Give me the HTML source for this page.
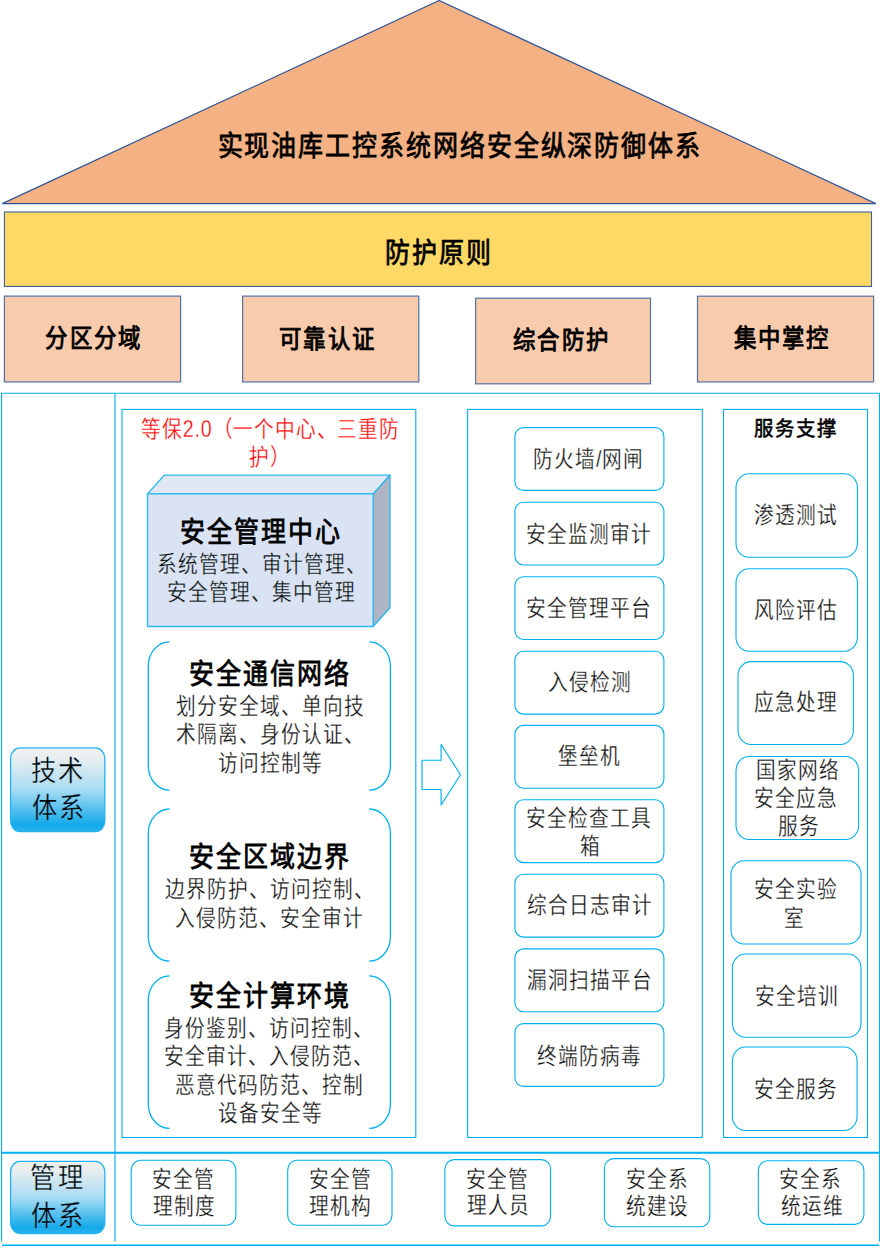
<!DOCTYPE html>
<html lang="zh-CN">
<head>
<meta charset="utf-8">
<title>油库工控系统网络安全纵深防御体系</title>
<style>
html,body{margin:0;padding:0;background:#fff;}
body{width:880px;height:1255px;position:relative;overflow:hidden;font-family:"Liberation Sans",sans-serif;color:#000;}
#bg{position:absolute;left:0;top:0;width:880px;height:1255px;}
.t{position:absolute;white-space:nowrap;line-height:1;margin:0;padding:0;transform-origin:0 0;}
.b{font-weight:normal;-webkit-text-stroke:0.7px #000;}
.b24{-webkit-text-stroke-width:0.85px;}
.bsh{-webkit-text-stroke-width:0.55px;}
.n{font-weight:400;color:#0a0a0a;-webkit-text-stroke:0.25px #fff;}
.c{-webkit-text-stroke-color:#dae3f3;}
.g{color:#000;-webkit-text-stroke:0.3px #c4e4f2;}
.g2{-webkit-text-stroke-color:#5cc1f0;}
.r{color:#ff0000;}
</style>
</head>
<body>
<svg id="bg" width="880" height="1255" viewBox="0 0 880 1255">
<defs>
<linearGradient id="gbtn" x1="0" y1="0" x2="0" y2="1">
<stop offset="0" stop-color="#f0f0f0"/>
<stop offset="0.12" stop-color="#e9eef0"/>
<stop offset="0.5" stop-color="#a8dcf3"/>
<stop offset="0.92" stop-color="#13a9ea"/>
<stop offset="1" stop-color="#2fb4ee"/>
</linearGradient>
</defs>
<polygon points="2.3,203.6 439.1,0.5 875.9,203.6" fill="#f4b183" stroke="#2f5597" stroke-width="1.2"/>
<rect x="4.4" y="212" width="867.1" height="74.4" fill="#ffd966" stroke="#3f5f97" stroke-width="1.1"/>
<g fill="#f8cbad" stroke="#5572a6" stroke-width="1.2">
<rect x="4.4" y="296.1" width="176.2" height="85.8"/>
<rect x="242.6" y="296.1" width="176.2" height="85.8"/>
<rect x="475.6" y="298.2" width="174.9" height="85.6"/>
<rect x="697.5" y="296.2" width="176.1" height="85.7"/>
</g>
<g fill="none" stroke="#00b0f0" stroke-width="1.1">
<path d="M1.6,1241.6 L1.6,393.3 L879.5,393.3 L879.5,1241.6"/>
<path d="M115,393.3 L115,1241.6"/>
<path d="M1.6,1152.8 L880,1152.8" stroke-width="2"/>
<path d="M2,1245.2 L879,1245.2" stroke-width="1.4"/>
</g>
<g fill="none" stroke="#00b0f0" stroke-width="1.1">
<rect x="122.0" y="409.4" width="293.8" height="728.1"/>
<rect x="467.6" y="409.4" width="234.7" height="728.1"/>
<rect x="723.5" y="409.4" width="144.0" height="728.1"/>
</g>
<g stroke="#2bb7f0" stroke-width="1.3" stroke-linejoin="round">
<polygon points="147.5,493.9 164.3,475.2 390,475.2 373.2,493.9" fill="#e1e7f5"/>
<polygon points="373.2,493.9 390,475.2 390,607.8 373.2,626.5" fill="#aeb4c4"/>
<rect x="147.5" y="493.9" width="225.7" height="132.6" fill="#dae3f3"/>
</g>
<g fill="none" stroke="#00b0f0" stroke-width="1.3">
<path d="M169.5,641.8 A21.2,24.4 0 0 0 148.3,666.2 L148.3,765.7 A21.2,24.4 0 0 0 169.5,790.1 M369.2,641.8 A21.2,24.4 0 0 1 390.4,666.2 L390.4,765.7 A21.2,24.4 0 0 1 369.2,790.1"/>
<path d="M169.5,809.0 A21.2,24.4 0 0 0 148.3,833.4 L148.3,936.7 A21.2,24.4 0 0 0 169.5,961.1 M369.2,809.0 A21.2,24.4 0 0 1 390.4,833.4 L390.4,936.7 A21.2,24.4 0 0 1 369.2,961.1"/>
<path d="M169.5,975.8 A21.2,24.4 0 0 0 148.3,1000.2 L148.3,1104.0 A21.2,24.4 0 0 0 169.5,1128.4 M369.2,975.8 A21.2,24.4 0 0 1 390.4,1000.2 L390.4,1104.0 A21.2,24.4 0 0 1 369.2,1128.4"/>
</g>
<polygon points="422,760.2 441.1,760.2 441.1,744.5 460.5,774.8 441.1,805 441.1,789.5 422,789.5" fill="#fff" stroke="#00b0f0" stroke-width="1.15" stroke-linejoin="round"/>
<g fill="#fff" stroke="#00b0f0" stroke-width="1.1">
<rect x="514.9" y="427.6" width="149.0" height="62.8" rx="8.6" ry="8.9" />
<rect x="514.9" y="502.2" width="149.0" height="62.8" rx="8.6" ry="8.9" />
<rect x="514.9" y="576.7" width="149.0" height="62.8" rx="8.6" ry="8.9" />
<rect x="514.9" y="651.3" width="149.0" height="62.8" rx="8.6" ry="8.9" />
<rect x="514.9" y="725.4" width="149.0" height="62.8" rx="8.6" ry="8.9" />
<rect x="514.9" y="799.8" width="149.0" height="62.8" rx="8.6" ry="8.9" />
<rect x="514.9" y="874.3" width="149.0" height="62.8" rx="8.6" ry="8.9" />
<rect x="514.9" y="948.9" width="149.0" height="62.8" rx="8.6" ry="8.9" />
<rect x="514.9" y="1023.6" width="149.0" height="62.8" rx="8.6" ry="8.9" />
<rect x="736.0" y="473.7" width="121.4" height="83.6" rx="13.0" ry="13.9" />
<rect x="736.0" y="568.8" width="121.4" height="82.4" rx="13.0" ry="13.9" />
<rect x="738.0" y="661.6" width="115.4" height="82.9" rx="13.0" ry="13.9" />
<rect x="736.0" y="756.5" width="122.6" height="83.0" rx="13.0" ry="13.9" />
<rect x="731.0" y="860.8" width="130.0" height="83.2" rx="13.0" ry="13.9" />
<rect x="732.4" y="954.0" width="128.6" height="83.2" rx="13.0" ry="13.9" />
<rect x="732.4" y="1047.0" width="124.7" height="83.5" rx="13.0" ry="13.9" />
<rect x="131.2" y="1160.3" width="104.7" height="64.9" rx="9.3" ry="9.8" />
<rect x="287.7" y="1160.3" width="104.3" height="64.9" rx="9.3" ry="9.8" />
<rect x="444.9" y="1159.6" width="105.7" height="66.3" rx="9.3" ry="9.8" />
<rect x="604.4" y="1158.6" width="105.4" height="68.1" rx="9.3" ry="9.8" />
<rect x="758.3" y="1160.8" width="105.6" height="63.6" rx="9.3" ry="9.8" />
</g>
<g fill="url(#gbtn)" stroke="#21b3ef" stroke-width="1.3">
<rect x="10.6" y="747.9" width="94.2" height="83.7" rx="9.5" ry="10.5" />
<rect x="10.6" y="1161.4" width="94.2" height="72.1" rx="9.5" ry="10.5" />
</g>
</svg>
<div id="title" class="t b" style="left:217.50px;top:132.40px;font-size:25.00px;letter-spacing:1.92px;transform:scale(1,1.140)">实现油库工控系统网络安全纵深防御体系</div>
<div id="fhyz" class="t b" style="left:385.20px;top:238.80px;font-size:25.00px;letter-spacing:2.00px;transform:scale(1,1.130)">防护原则</div>
<div id="p1" class="t b b24" style="left:45.30px;top:326.90px;font-size:22.40px;letter-spacing:2.25px;transform:scale(1,1.100)">分区分域</div>
<div id="p2" class="t b b24" style="left:279.00px;top:327.50px;font-size:22.40px;letter-spacing:2.25px;transform:scale(1,1.100)">可靠认证</div>
<div id="p3" class="t b b24" style="left:513.00px;top:328.70px;font-size:22.40px;letter-spacing:2.25px;transform:scale(1,1.100)">综合防护</div>
<div id="p4" class="t b b24" style="left:733.70px;top:326.50px;font-size:22.40px;letter-spacing:2.25px;transform:scale(1,1.100)">集中掌控</div>
<div id="red1" class="t n r" style="left:141.20px;top:418.40px;font-size:19.70px;letter-spacing:0.80px;transform:scale(1,1.170)">等保2.0（一个中心、三重防</div>
<div id="red2" class="t n r" style="left:249.40px;top:445.90px;font-size:19.70px;letter-spacing:0.80px;transform:scale(1,1.170)">护）</div>
<div id="c1h" class="t b" style="left:180.10px;top:518.20px;font-size:25.00px;letter-spacing:2.00px;transform:scale(1,1.130)">安全管理中心</div>
<div id="c1a" class="t n c" style="left:157.00px;top:552.80px;font-size:19.70px;letter-spacing:1.00px;transform:scale(1,1.170)">系统管理、审计管理、</div>
<div id="c1b" class="t n c" style="left:166.50px;top:581.00px;font-size:19.70px;letter-spacing:1.00px;transform:scale(1,1.170)">安全管理、集中管理</div>
<div id="c2h" class="t b" style="left:189.20px;top:659.90px;font-size:25.00px;letter-spacing:2.00px;transform:scale(1,1.130)">安全通信网络</div>
<div id="c2a" class="t n" style="left:175.80px;top:695.40px;font-size:19.70px;letter-spacing:1.00px;transform:scale(1,1.170)">划分安全域、单向技</div>
<div id="c2b" class="t n" style="left:175.80px;top:723.20px;font-size:19.70px;letter-spacing:1.00px;transform:scale(1,1.170)">术隔离、身份认证、</div>
<div id="c2c" class="t n" style="left:217.90px;top:751.80px;font-size:19.70px;letter-spacing:1.00px;transform:scale(1,1.170)">访问控制等</div>
<div id="c3h" class="t b" style="left:189.20px;top:843.30px;font-size:25.00px;letter-spacing:2.00px;transform:scale(1,1.130)">安全区域边界</div>
<div id="c3a" class="t n" style="left:164.70px;top:878.30px;font-size:19.70px;letter-spacing:1.00px;transform:scale(1,1.170)">边界防护、访问控制、</div>
<div id="c3b" class="t n" style="left:174.80px;top:906.60px;font-size:19.70px;letter-spacing:1.00px;transform:scale(1,1.170)">入侵防范、安全审计</div>
<div id="c4h" class="t b" style="left:189.20px;top:981.70px;font-size:25.00px;letter-spacing:2.00px;transform:scale(1,1.130)">安全计算环境</div>
<div id="c4a" class="t n" style="left:164.00px;top:1016.90px;font-size:19.70px;letter-spacing:1.00px;transform:scale(1,1.170)">身份鉴别、访问控制、</div>
<div id="c4b" class="t n" style="left:164.00px;top:1045.00px;font-size:19.70px;letter-spacing:1.00px;transform:scale(1,1.170)">安全审计、入侵防范、</div>
<div id="c4c" class="t n" style="left:174.60px;top:1073.50px;font-size:19.70px;letter-spacing:1.00px;transform:scale(1,1.170)">恶意代码防范、控制</div>
<div id="c4d" class="t n" style="left:217.90px;top:1102.30px;font-size:19.70px;letter-spacing:1.00px;transform:scale(1,1.170)">设备安全等</div>
<div id="js1" class="t n g" style="left:30.70px;top:757.10px;font-size:25.30px;letter-spacing:2.20px;transform:scale(1,1.130)">技术</div>
<div id="js2" class="t n g g2" style="left:31.70px;top:793.90px;font-size:25.30px;letter-spacing:2.20px;transform:scale(1,1.130)">体系</div>
<div id="gl1" class="t n g" style="left:30.40px;top:1163.70px;font-size:25.30px;letter-spacing:2.20px;transform:scale(1,1.130)">管理</div>
<div id="gl2" class="t n g g2" style="left:30.90px;top:1201.90px;font-size:25.30px;letter-spacing:2.20px;transform:scale(1,1.130)">体系</div>
<div id="m1" class="t n" style="left:533.00px;top:448.00px;font-size:19.70px;letter-spacing:1.00px;transform:scale(1,1.170)">防火墙/网闸</div>
<div id="m2" class="t n" style="left:526.40px;top:522.60px;font-size:19.70px;letter-spacing:1.00px;transform:scale(1,1.170)">安全监测审计</div>
<div id="m3" class="t n" style="left:526.40px;top:596.50px;font-size:19.70px;letter-spacing:1.00px;transform:scale(1,1.170)">安全管理平台</div>
<div id="m4" class="t n" style="left:547.50px;top:671.30px;font-size:19.70px;letter-spacing:1.00px;transform:scale(1,1.170)">入侵检测</div>
<div id="m5" class="t n" style="left:558.30px;top:745.40px;font-size:19.70px;letter-spacing:1.00px;transform:scale(1,1.170)">堡垒机</div>
<div id="m6a" class="t n" style="left:526.40px;top:806.50px;font-size:19.70px;letter-spacing:1.00px;transform:scale(1,1.170)">安全检查工具</div>
<div id="m6b" class="t n" style="left:579.80px;top:834.80px;font-size:19.70px;letter-spacing:1.00px;transform:scale(1,1.170)">箱</div>
<div id="m7" class="t n" style="left:527.40px;top:894.10px;font-size:19.70px;letter-spacing:1.00px;transform:scale(1,1.170)">综合日志审计</div>
<div id="m8" class="t n" style="left:526.80px;top:968.80px;font-size:19.70px;letter-spacing:1.00px;transform:scale(1,1.170)">漏洞扫描平台</div>
<div id="m9" class="t n" style="left:536.80px;top:1044.60px;font-size:19.70px;letter-spacing:1.00px;transform:scale(1,1.170)">终端防病毒</div>
<div id="sh" class="t b bsh" style="left:754.10px;top:419.70px;font-size:19.40px;letter-spacing:1.95px;transform:scale(1,1.030)">服务支撑</div>
<div id="s1" class="t n" style="left:754.10px;top:503.90px;font-size:19.70px;letter-spacing:1.00px;transform:scale(1,1.170)">渗透测试</div>
<div id="s2" class="t n" style="left:754.10px;top:598.80px;font-size:19.70px;letter-spacing:1.00px;transform:scale(1,1.170)">风险评估</div>
<div id="s3" class="t n" style="left:754.10px;top:691.30px;font-size:19.70px;letter-spacing:1.00px;transform:scale(1,1.170)">应急处理</div>
<div id="s4a" class="t n" style="left:756.20px;top:759.00px;font-size:19.70px;letter-spacing:1.00px;transform:scale(1,1.170)">国家网络</div>
<div id="s4b" class="t n" style="left:754.00px;top:786.70px;font-size:19.70px;letter-spacing:1.00px;transform:scale(1,1.170)">安全应急</div>
<div id="s4c" class="t n" style="left:778.20px;top:815.20px;font-size:19.70px;letter-spacing:1.00px;transform:scale(1,1.170)">服务</div>
<div id="s5a" class="t n" style="left:753.70px;top:877.60px;font-size:19.70px;letter-spacing:1.00px;transform:scale(1,1.170)">安全实验</div>
<div id="s5b" class="t n" style="left:784.30px;top:907.30px;font-size:19.70px;letter-spacing:1.00px;transform:scale(1,1.170)">室</div>
<div id="s6" class="t n" style="left:754.50px;top:984.60px;font-size:19.70px;letter-spacing:1.00px;transform:scale(1,1.170)">安全培训</div>
<div id="s7" class="t n" style="left:753.50px;top:1078.30px;font-size:19.70px;letter-spacing:1.00px;transform:scale(1,1.170)">安全服务</div>
<div id="g1a" class="t n" style="left:151.70px;top:1167.70px;font-size:19.70px;letter-spacing:1.00px;transform:scale(1,1.170)">安全管</div>
<div id="g1b" class="t n" style="left:152.90px;top:1194.90px;font-size:19.70px;letter-spacing:1.00px;transform:scale(1,1.170)">理制度</div>
<div id="g2a" class="t n" style="left:309.00px;top:1167.70px;font-size:19.70px;letter-spacing:1.00px;transform:scale(1,1.170)">安全管</div>
<div id="g2b" class="t n" style="left:309.20px;top:1194.90px;font-size:19.70px;letter-spacing:1.00px;transform:scale(1,1.170)">理机构</div>
<div id="g3a" class="t n" style="left:465.70px;top:1167.70px;font-size:19.70px;letter-spacing:1.00px;transform:scale(1,1.170)">安全管</div>
<div id="g3b" class="t n" style="left:466.90px;top:1194.40px;font-size:19.70px;letter-spacing:1.00px;transform:scale(1,1.170)">理人员</div>
<div id="g4a" class="t n" style="left:625.50px;top:1167.70px;font-size:19.70px;letter-spacing:1.00px;transform:scale(1,1.170)">安全系</div>
<div id="g4b" class="t n" style="left:625.70px;top:1194.90px;font-size:19.70px;letter-spacing:1.00px;transform:scale(1,1.170)">统建设</div>
<div id="g5a" class="t n" style="left:779.30px;top:1167.70px;font-size:19.70px;letter-spacing:1.00px;transform:scale(1,1.170)">安全系</div>
<div id="g5b" class="t n" style="left:780.50px;top:1194.90px;font-size:19.70px;letter-spacing:1.00px;transform:scale(1,1.170)">统运维</div>
</body>
</html>
